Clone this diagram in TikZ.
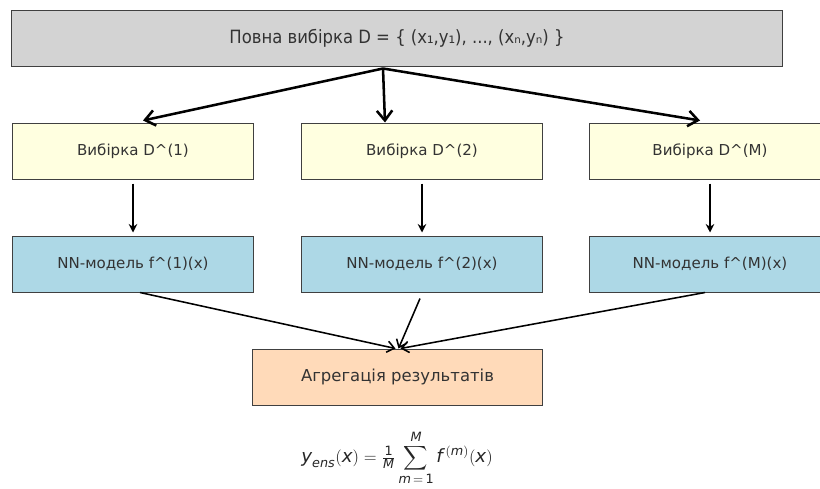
\documentclass[tikz,border=0pt]{standalone}
\usepackage{amsmath}
\usepackage{fontspec}
\setmainfont{DejaVu Sans}
\newfontfamily\condfont{DejaVu Sans Condensed}
\usetikzlibrary{arrows.meta,calc}
\tikzset{>={Straight Barb[length=7pt,width=11pt]}}
\definecolor{boxgray}{HTML}{D3D3D3}
\definecolor{boxyellow}{HTML}{FFFFE0}
\definecolor{boxblue}{HTML}{ADD8E6}
\definecolor{boxpeach}{HTML}{FFDAB9}
\tikzset{
  box/.style={draw=black!75,line width=0.7pt,minimum width=6cm,minimum height=1.4cm,
    inner sep=0pt,text=black!80,font=\fontsize{10.7}{12}\selectfont},
  sample/.style={box,fill=boxyellow},
  model/.style={box,fill=boxblue},
  thick arrow/.style={->,line width=1.8pt},
  mid arrow/.style={-{Stealth[length=6pt,width=6pt]},line width=1.3pt},
  thin arrow/.style={-{Straight Barb[length=5pt,width=8pt]},line width=1.1pt}
}
\begin{document}
\begin{tikzpicture}[x=0.025cm,y=-0.025cm]
    \useasboundingbox (0,0) rectangle (820,488);
    \node[box,fill=boxgray,minimum width=19.25cm,font=\condfont\fontsize{13}{15}\selectfont] (full) at (397,38)
        {Повна вибірка D = \{ (x₁,y₁), ..., (xₙ,yₙ) \}};
    \foreach \i/\x/\lab in {1/133/1,2/422/2,3/710/M}
    {
    \node[sample] (s\i) at (\x,151) {Вибірка D\^{}(\lab)};
    \node[model] (n\i) at (\x,264) {NN-модель f\^{}(\lab)(x)};
    \draw[mid arrow] ($(s\i.south)+(0,4)$) -- ($(n\i.north)+(0,-3)$);
    }
    \node[box,fill=boxpeach,minimum width=7.225cm,font=\fontsize{11.7}{13}\selectfont] (agg) at (397.5,377)
        {Агрегація результатів};
    \node[text=black!85,font=\fontsize{13}{15}\selectfont] (formula) at (397,458)
        {$\displaystyle\textit{y}_{\textit{ens}}(\textit{x}) = \tfrac{\text{1}}{\textit{M}}
        \sum_{\textit{m}\,=\,\text{1}}^{\textit{M}} \textit{f}\,^{(\textit{m})}(\textit{x})$};
    % from the full sample to the bootstrap samples
    \coordinate (top) at ($(full.south)+(-14,2)$);
    \draw[thick arrow] (top) -- ($(s1.north)+(10,-2)$);
    \draw[thick arrow] (top) -- ($(s2.north)+(-37,0)$);
    \draw[thick arrow] (top) -- ($(s3.north)+(-10,-2)$);
    % from the models to the aggregation
    \draw[thin arrow] ($(n1.south)+(7,0)$) -- ($(agg.north)+(-2,0)$);
    \draw[thin arrow] ($(n2.south)+(-2,6)$) -- ($(agg.north)+(1,0)$);
    \draw[thin arrow] ($(n3.south)+(-5,0)$) -- ($(agg.north)+(3,0)$);
\end{tikzpicture}
\end{document}
